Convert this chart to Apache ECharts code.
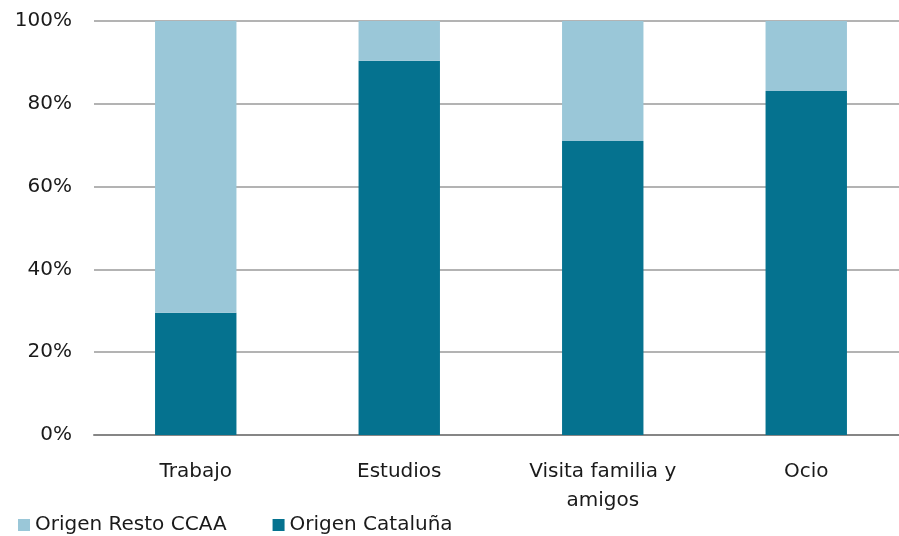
<!DOCTYPE html>
<html>
<head>
<meta charset="utf-8">
<script src="https://cdn.jsdelivr.net/npm/echarts@6/dist/echarts.min.js"></script>
<style>
  html, body { margin: 0; padding: 0; background: #fff; }
  #chart { width: 899px; height: 536px; }
</style>
</head>
<body>
<div id="chart"></div>
<script>
const categories = ['Trabajo', 'Estudios', 'Visita familia y\namigos', 'Ocio']
const origenCataluna = [29.5, 90.4, 71.0, 83.1]
const origenResto = origenCataluna.map(v => +(100 - v).toFixed(1))
const seriesNames = ['Origen Resto CCAA', 'Origen Cataluña']

const font = 'DejaVu Sans'
const chart = echarts.init(document.getElementById('chart'))

chart.setOption({
  animation: false,
  textStyle: { fontFamily: font },
  grid: { left: 94, right: -9, top: 21, bottom: 101, outerBoundsMode: 'none', containLabel: false },
  legend: {
    data: [seriesNames[0], seriesNames[1]],
    left: 13,
    top: 510,
    itemWidth: 12,
    itemHeight: 12,
    itemGap: 46,
    itemStyle: { borderWidth: 0 },
    icon: 'rect',
    textStyle: { fontSize: 20, color: '#1a1a1a', fontFamily: font }
  },
  xAxis: {
    type: 'category',
    data: categories,
    axisLine: { lineStyle: { color: '#868686', width: 2 } },
    axisTick: { show: false },
    axisLabel: { fontSize: 20, color: '#1a1a1a', margin: 22, lineHeight: 29 }
  },
  yAxis: {
    type: 'value',
    min: 0,
    max: 100,
    interval: 20,
    axisLabel: { formatter: '{value}%', fontSize: 20, color: '#1a1a1a', margin: 22 },
    axisLine: { show: false },
    splitLine: { lineStyle: { color: '#9a9a9a', width: 1.5 } }
  },
  series: [
    {
      name: seriesNames[1],
      type: 'bar',
      stack: 'total',
      barWidth: '40%',
      itemStyle: { color: '#05728f' },
      data: origenCataluna
    },
    {
      name: seriesNames[0],
      type: 'bar',
      stack: 'total',
      itemStyle: { color: '#9ac7d8' },
      data: origenResto
    }
  ]
})
</script>
</body>
</html>
